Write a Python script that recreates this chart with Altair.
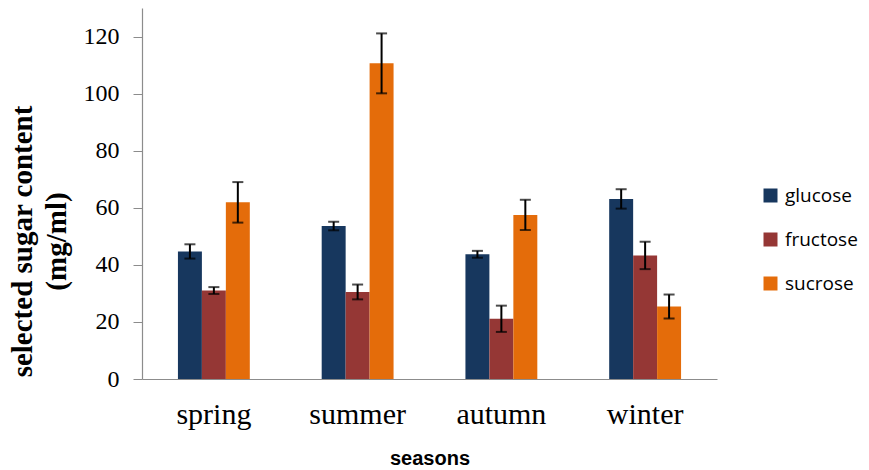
import altair as alt
import pandas as pd

seasons = ["spring", "summer", "autumn", "winter"]
sugars = ["glucose", "fructose", "sucrose"]
glucose = [44.7, 53.6, 43.7, 63.1]
fructose = [31.0, 30.5, 21.1, 43.3]
sucrose = [61.9, 110.6, 57.5, 25.4]
glucose_err = [2.5, 1.5, 1.2, 3.4]
fructose_err = [1.2, 2.6, 4.6, 4.8]
sucrose_err = [7.1, 10.5, 5.3, 4.2]
colors = ["#17375E", "#953735", "#E46C0A"]
y_ticks = [0, 20, 40, 60, 80, 100, 120]

rows = []
for vals, errs, name in [(glucose, glucose_err, "glucose"),
                         (fructose, fructose_err, "fructose"),
                         (sucrose, sucrose_err, "sucrose")]:
    for s, v, e in zip(seasons, vals, errs):
        rows.append({"season": s, "sugar": name, "value": v, "err": e})
df = pd.DataFrame(rows)

x_enc = alt.X("season:N", sort=seasons,
              scale=alt.Scale(paddingInner=0.5, paddingOuter=0.25),
              axis=alt.Axis(title="seasons", labelAngle=0, ticks=False,
                            labelFont="Liberation Serif", labelFontSize=30,
                            labelColor="#000000", labelPadding=20,
                            titleFont="Liberation Sans", titleFontSize=20,
                            titleFontWeight="bold", titleColor="#000000",
                            titlePadding=19,
                            domainColor="#8C8C8C", domainWidth=1.2))
xoff = alt.XOffset("sugar:N", sort=sugars, scale=alt.Scale(paddingInner=0, paddingOuter=0))

base = alt.Chart(df)

bars = base.mark_bar().encode(
    x=x_enc,
    xOffset=xoff,
    y=alt.Y("value:Q", scale=alt.Scale(domain=[0, 130], nice=False),
            axis=alt.Axis(values=y_ticks, grid=False,
                          title=["selected sugar content", "(mg/ml)"],
                          labelFont="Liberation Serif", labelFontSize=24,
                          labelColor="#000000", labelPadding=14,
                          tickSize=9, tickColor="#8C8C8C",
                          domainColor="#8C8C8C", domainWidth=1.2,
                          titleFont="Liberation Serif", titleFontSize=29,
                          titleFontWeight="bold", titleColor="#000000",
                          titleAnchor="middle", titleAngle=-90,
                          titleX=-105, titleY=233, titleAlign="center",
                          titleBaseline="bottom", titleLineHeight=34)),
    color=alt.Color("sugar:N", sort=sugars,
                    scale=alt.Scale(domain=sugars, range=colors),
                    legend=alt.Legend(title=None, orient="none",
                                      legendX=619, legendY=178,
                                      symbolType="square", symbolSize=196,
                                      symbolStrokeWidth=0,
                                      labelFont="Open Sans", labelFontSize=19,
                                      labelColor="#000000", labelOffset=5,
                                      rowPadding=24)),
)

err = base.transform_calculate(
    lo="datum.value - datum.err", hi="datum.value + datum.err"
)

rule = err.mark_rule(color="black", strokeWidth=2).encode(
    x=alt.X("season:N", sort=seasons), xOffset=xoff,
    y="lo:Q", y2="hi:Q")
cap_lo = err.mark_tick(color="black", thickness=2, size=11, orient="horizontal").encode(
    x=alt.X("season:N", sort=seasons), xOffset=xoff, y="lo:Q")
cap_hi = err.mark_tick(color="black", thickness=2, size=11, orient="horizontal").encode(
    x=alt.X("season:N", sort=seasons), xOffset=xoff, y="hi:Q")

chart = alt.layer(bars, rule, cap_lo, cap_hi).properties(
    width=575, height=371,
    background="white",
    autosize=alt.AutoSizeParams(type="none"),
    padding={"left": 142, "top": 8, "right": 152, "bottom": 91},
).configure_view(strokeWidth=0, stroke="transparent")

chart.save("out.html", embed_options={"renderer": "svg", "actions": False})
